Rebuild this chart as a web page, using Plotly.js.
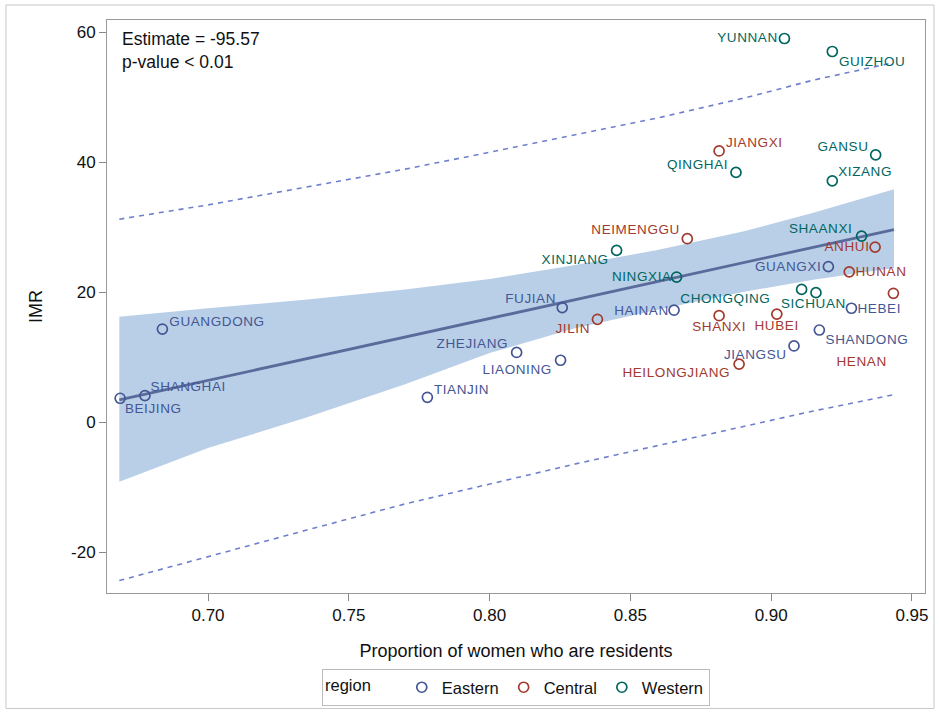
<!DOCTYPE html>
<html>
<head>
<meta charset="utf-8">
<script src="https://cdn.plot.ly/plotly-3.0.1.min.js"></script>
<style>
  html, body { margin: 0; padding: 0; background: #ffffff; }
  #chart { width: 939px; height: 713px; }
</style>
</head>
<body>
<div id="chart"></div>
<script>
// ---------------- data ----------------
const provinces = ["BEIJING","SHANGHAI","GUANGDONG","TIANJIN","ZHEJIANG","LIAONING","FUJIAN","JILIN",
  "XINJIANG","HAINAN","NINGXIA","NEIMENGGU","JIANGXI","SHANXI","QINGHAI","HEILONGJIANG","HUBEI",
  "YUNNAN","JIANGSU","CHONGQING","SICHUAN","SHANDONG","GUANGXI","GUIZHOU","XIZANG","HEBEI","HUNAN",
  "SHAANXI","ANHUI","GANSU","HENAN"];
const region = ["Eastern","Eastern","Eastern","Eastern","Eastern","Eastern","Eastern","Central",
  "Western","Eastern","Western","Central","Central","Central","Western","Central","Central",
  "Western","Eastern","Western","Western","Eastern","Eastern","Western","Western","Eastern","Central",
  "Western","Central","Western","Central"];
const propResident = [0.6688,0.6776,0.6838,0.7779,0.8096,0.8252,0.8258,0.8383,
  0.8451,0.8655,0.8664,0.8702,0.8815,0.8815,0.8875,0.8886,0.9020,
  0.9047,0.9081,0.9108,0.9159,0.9171,0.9203,0.9217,0.9217,0.9285,0.9277,
  0.9321,0.9369,0.9371,0.9434];
const imr = [3.65,4.05,14.3,3.8,10.7,9.5,17.6,15.8,
  26.4,17.2,22.3,28.2,41.7,16.35,38.4,8.9,16.6,
  59.0,11.7,20.4,19.9,14.15,23.9,57.0,37.1,17.5,23.1,
  28.6,26.9,41.1,19.8];

const regions = ["Eastern","Central","Western"];

// regression fit line
const fitX = [0.6685, 0.9436];
const fitY = [3.4, 29.6];

// confidence band and prediction limits
const bandX     = [0.6685, 0.70, 0.7344, 0.77, 0.80, 0.83, 0.86, 0.89, 0.915, 0.9436];
const clmLower  = [-9.2, -4.0, 0.6, 5.8, 10.6, 14.4, 17.3, 20.0, 21.9, 23.7];
const clmUpper  = [16.2, 17.5, 18.8, 20.4, 22.0, 24.1, 26.5, 29.3, 32.2, 35.8];
const predLower = [-24.4, -20.7, -16.7, -12.6, -9.5, -6.5, -3.6, -0.7, 1.7, 4.2];
const predUpper = [31.2, 33.4, 36.1, 38.9, 41.5, 44.2, 46.8, 49.8, 52.6, 55.3];

const estimateText = "Estimate = -95.57";
const pvalueText = "p-value &lt; 0.01";

// ---------------- styles ----------------
const regionColor = {Eastern: "#445694", Central: "#A23A2E", Western: "#01665E"};
// label offsets (pixels) from each point
const labelDx = [33,44,55,34,-44,-43,-32,-24, -42,-33,-35,-52,35,0,-38,-63,0, -37,-39,-76,-2,48,-40,40,33,28,32, -41,-28,-33,-32];
const labelDy = [-10,9,8,8,9,-9,9,-9, -9,0,1,9,8,-11,8,-8,-11, 1,-9,-9,-11,-9,0,-10,9,0,0, 8,1,8,-68];

const FONT = "'Liberation Sans', Arial, sans-serif";

const traces = [];
// CLM band (polygon)
traces.push({
  x: bandX.concat(bandX.slice().reverse()),
  y: clmUpper.concat(clmLower.slice().reverse()),
  type: "scatter", mode: "lines", fill: "toself",
  fillcolor: "#B9CFE7", line: {width: 0, color: "rgba(0,0,0,0)"},
  showlegend: false, hoverinfo: "skip"
});
// prediction limits
traces.push({x: bandX, y: predUpper, type: "scatter", mode: "lines",
  line: {color: "#6E80CC", width: 1.6, dash: "5px,5px"}, showlegend: false, hoverinfo: "skip"});
traces.push({x: bandX, y: predLower, type: "scatter", mode: "lines",
  line: {color: "#6E80CC", width: 1.6, dash: "5px,5px"}, showlegend: false, hoverinfo: "skip"});
// fit line
traces.push({x: fitX, y: fitY, type: "scatter", mode: "lines",
  line: {color: "#5A6B9B", width: 2.8}, showlegend: false, hoverinfo: "skip"});
// points by region
regions.forEach(r => {
  const xs = [], ys = [];
  provinces.forEach((p, i) => { if (region[i] === r) { xs.push(propResident[i]); ys.push(imr[i]); } });
  traces.push({
    x: xs, y: ys, type: "scatter", mode: "markers", name: r,
    marker: {symbol: "circle-open", size: 10, color: regionColor[r], line: {width: 1.7, color: regionColor[r]}},
    hoverinfo: "skip"
  });
});

const annotations = provinces.map((p, i) => ({
  x: propResident[i], y: imr[i], xref: "x", yref: "y",
  text: p, showarrow: false, xanchor: "center", yanchor: "middle",
  xshift: labelDx[i], yshift: labelDy[i],
  font: {family: FONT, size: 13.5, color: regionColor[region[i]]}
}));
annotations.push({
  xref: "paper", yref: "paper", x: 0.0159, y: 0.988, xanchor: "left", yanchor: "top",
  align: "left", showarrow: false,
  text: estimateText + "<br>" + pvalueText,
  font: {family: FONT, size: 17.5, color: "#111111"}
});

const layout = {
  width: 939, height: 713,
  margin: {l: 107, r: 14, t: 20, b: 120, pad: 0, autoexpand: false},
  paper_bgcolor: "#ffffff", plot_bgcolor: "#ffffff",
  font: {family: FONT, color: "#111111"},
  showlegend: true,
  xaxis: {
    range: [0.66413, 0.95462], tickmode: "array", automargin: false,
    tickvals: [0.70, 0.75, 0.80, 0.85, 0.90, 0.95],
    ticktext: ["0.70","0.75","0.80","0.85","0.90","0.95"],
    ticks: "outside", ticklen: 7, tickcolor: "#888888", tickwidth: 1,
    showline: true, linecolor: "#999999", linewidth: 1, mirror: true,
    showgrid: false, zeroline: false,
    tickfont: {family: FONT, size: 17, color: "#111111"},
    title: {text: "Proportion of women who are residents", font: {family: FONT, size: 18, color: "#111111"}, standoff: 19}
  },
  yaxis: {
    range: [-26.308, 61.846], tickmode: "array", automargin: false,
    tickvals: [-20, 0, 20, 40, 60],
    ticktext: ["-20", "0", "20", "40", "60"],
    ticks: "outside", ticklen: 7, tickcolor: "#888888", tickwidth: 1,
    showline: true, linecolor: "#999999", linewidth: 1, mirror: true,
    showgrid: false, zeroline: false,
    tickfont: {family: FONT, size: 17, color: "#111111"},
    title: {text: "IMR", font: {family: FONT, size: 18, color: "#111111"}, standoff: 23}
  },
  legend: {
    orientation: "h", xref: "container", yref: "container",
    x: 0.5495, xanchor: "center", y: 0.0617, yanchor: "top",
    bordercolor: "#BBBBBB", borderwidth: 1, bgcolor: "#ffffff",
    font: {family: FONT, size: 16.5, color: "#111111"},
    title: {text: "region     ", side: "left", font: {family: FONT, size: 16.5, color: "#111111"}},
    itemwidth: 30, tracegroupgap: 0
  },
  annotations: annotations,
  shapes: [{
    type: "rect", xref: "paper", yref: "paper",
    x0: -0.1235, x1: 1.0110, y0: -0.2015, y1: 1.0262,
    line: {color: "#C8C8C8", width: 1}, fillcolor: "rgba(0,0,0,0)", layer: "below"
  }]
};

Plotly.newPlot("chart", traces, layout, {displayModeBar: false, staticPlot: true}).then(() => {
  const texts = document.querySelectorAll("g.annotation text.annotation-text");
  texts.forEach((t, i) => { if (i < provinces.length) t.style.letterSpacing = "0.6px"; });
});
</script>
</body>
</html>
